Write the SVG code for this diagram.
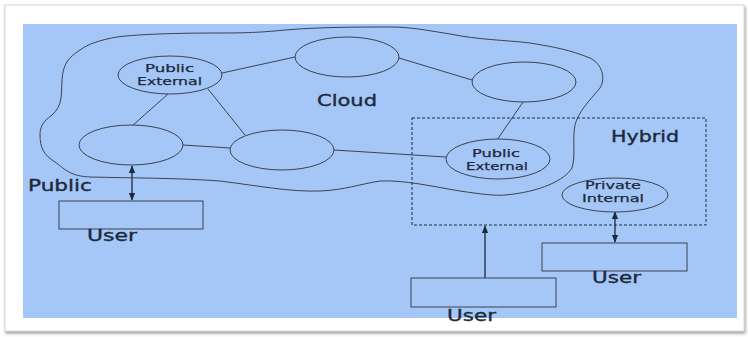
<svg xmlns="http://www.w3.org/2000/svg" width="748" height="337" viewBox="0 0 748 337">
<defs>
<style>
.ln{stroke:#3a4350;stroke-width:1;fill:none}
.el{fill:#a5c7f7;stroke:#3a4350;stroke-width:1}
.bx{fill:#a5c7f7;stroke:#3a4350;stroke-width:1}
.t{font-family:"DejaVu Sans",Verdana,sans-serif;fill:#1c2a3c;stroke:#1c2a3c;stroke-width:0.35}
.s{font-size:10.5px;stroke-width:0.25}
.l{font-size:15px}
.ar{stroke:#1c2a3c;stroke-width:1.3;fill:none}
</style>
<marker id="ah" viewBox="0 0 10 10" refX="9" refY="5" markerWidth="6" markerHeight="6" orient="auto-start-reverse">
<path d="M0,1 L10,5 L0,9 Z" fill="#1c2a3c"/>
</marker>
<filter id="sh" x="-5%" y="-5%" width="110%" height="115%">
<feDropShadow dx="1" dy="2" stdDeviation="1.5" flood-color="#555" flood-opacity="0.6"/>
</filter>
</defs>
<rect x="0" y="0" width="748" height="337" fill="#ffffff"/>
<rect x="5" y="5" width="739" height="326" fill="#ffffff" stroke="#d6d6d6" stroke-width="1" filter="url(#sh)"/>
<rect x="23" y="24" width="714" height="294" fill="#a5c7f7"/>

<g id="cloud-outline">
<path class="ln" d="M80,50 C68,58 63,64 62,80 C61,95 63,105 52,115 C42,122 40,128 40,135 C40,148 44,155 55,162 C66,170 70,176 90,177 C130,178 180,178 220,181 C260,186 290,192 320,191 C345,190 360,184 380,181 C405,180 430,186 460,191 C480,194 495,196 505,195 C540,192 565,180 572,168 C576,155 572,140 575,125 C578,112 590,100 600,88 C606,78 602,64 590,58 C570,50 555,47 530,43 C505,40 480,40 450,34 C425,30 410,27 390,27 C360,27 320,27 285,30 C265,32 250,33 220,33 C180,33 140,34 117,37 C100,40 88,44 80,50 Z"/>
<text class="t l" x="317" y="106" textLength="60" lengthAdjust="spacingAndGlyphs">Cloud</text>
</g>

<g id="hybrid">
<rect x="412" y="118" width="294" height="107" fill="none" stroke="#1c2a3c" stroke-width="1" stroke-dasharray="3,2"/>
<text class="t l" x="611" y="142" textLength="68" lengthAdjust="spacingAndGlyphs">Hybrid</text>
</g>

<g id="connectors">
<line class="ln" x1="222" y1="73" x2="295" y2="57"/>
<line class="ln" x1="399" y1="58" x2="472" y2="80"/>
<line class="ln" x1="168" y1="94" x2="132" y2="126"/>
<line class="ln" x1="208" y1="89" x2="245" y2="135"/>
<line class="ln" x1="183" y1="145" x2="230" y2="148"/>
<line class="ln" x1="334" y1="150" x2="446" y2="157"/>
<line class="ln" x1="523" y1="102" x2="497" y2="140"/>
<line class="ar" x1="132" y1="166" x2="132" y2="200" marker-start="url(#ah)" marker-end="url(#ah)"/>
<line class="ar" x1="485" y1="278" x2="485" y2="226" marker-end="url(#ah)"/>
<line class="ar" x1="615" y1="212" x2="615" y2="242" marker-start="url(#ah)" marker-end="url(#ah)"/>
</g>

<g id="pub-ext-1">
<ellipse class="el" cx="170" cy="75" rx="52" ry="19"/>
<text class="t s" x="145" y="72" textLength="49" lengthAdjust="spacingAndGlyphs">Public</text>
<text class="t s" x="137" y="85" textLength="65" lengthAdjust="spacingAndGlyphs">External</text>
</g>
<g id="node-top">
<ellipse class="el" cx="347" cy="57" rx="52" ry="20"/>
</g>
<g id="node-right">
<ellipse class="el" cx="524" cy="82" rx="52" ry="20"/>
</g>
<g id="node-left">
<ellipse class="el" cx="131" cy="145" rx="52" ry="20"/>
</g>
<g id="node-mid">
<ellipse class="el" cx="282" cy="150" rx="52" ry="20"/>
</g>
<g id="pub-ext-2">
<ellipse class="el" cx="498" cy="159" rx="52" ry="20"/>
<text class="t s" x="472" y="157" textLength="48" lengthAdjust="spacingAndGlyphs">Public</text>
<text class="t s" x="466" y="170" textLength="62" lengthAdjust="spacingAndGlyphs">External</text>
</g>
<g id="priv-int">
<ellipse class="el" cx="615" cy="195" rx="53" ry="17"/>
<text class="t s" x="585" y="189" textLength="56" lengthAdjust="spacingAndGlyphs">Private</text>
<text class="t s" x="582" y="202" textLength="62" lengthAdjust="spacingAndGlyphs">Internal</text>
</g>

<g id="public-label">
<text class="t l" x="28" y="191" textLength="64" lengthAdjust="spacingAndGlyphs">Public</text>
</g>
<g id="user-left">
<rect class="bx" x="59" y="201" width="144" height="28"/>
<text class="t l" x="87" y="241" textLength="50" lengthAdjust="spacingAndGlyphs">User</text>
</g>
<g id="user-mid">
<rect class="bx" x="411" y="278" width="145" height="29"/>
<text class="t l" x="447" y="321" textLength="49" lengthAdjust="spacingAndGlyphs">User</text>
</g>
<g id="user-right">
<rect class="bx" x="542" y="243" width="145" height="28"/>
<text class="t l" x="592" y="283" textLength="49" lengthAdjust="spacingAndGlyphs">User</text>
</g>
</svg>
